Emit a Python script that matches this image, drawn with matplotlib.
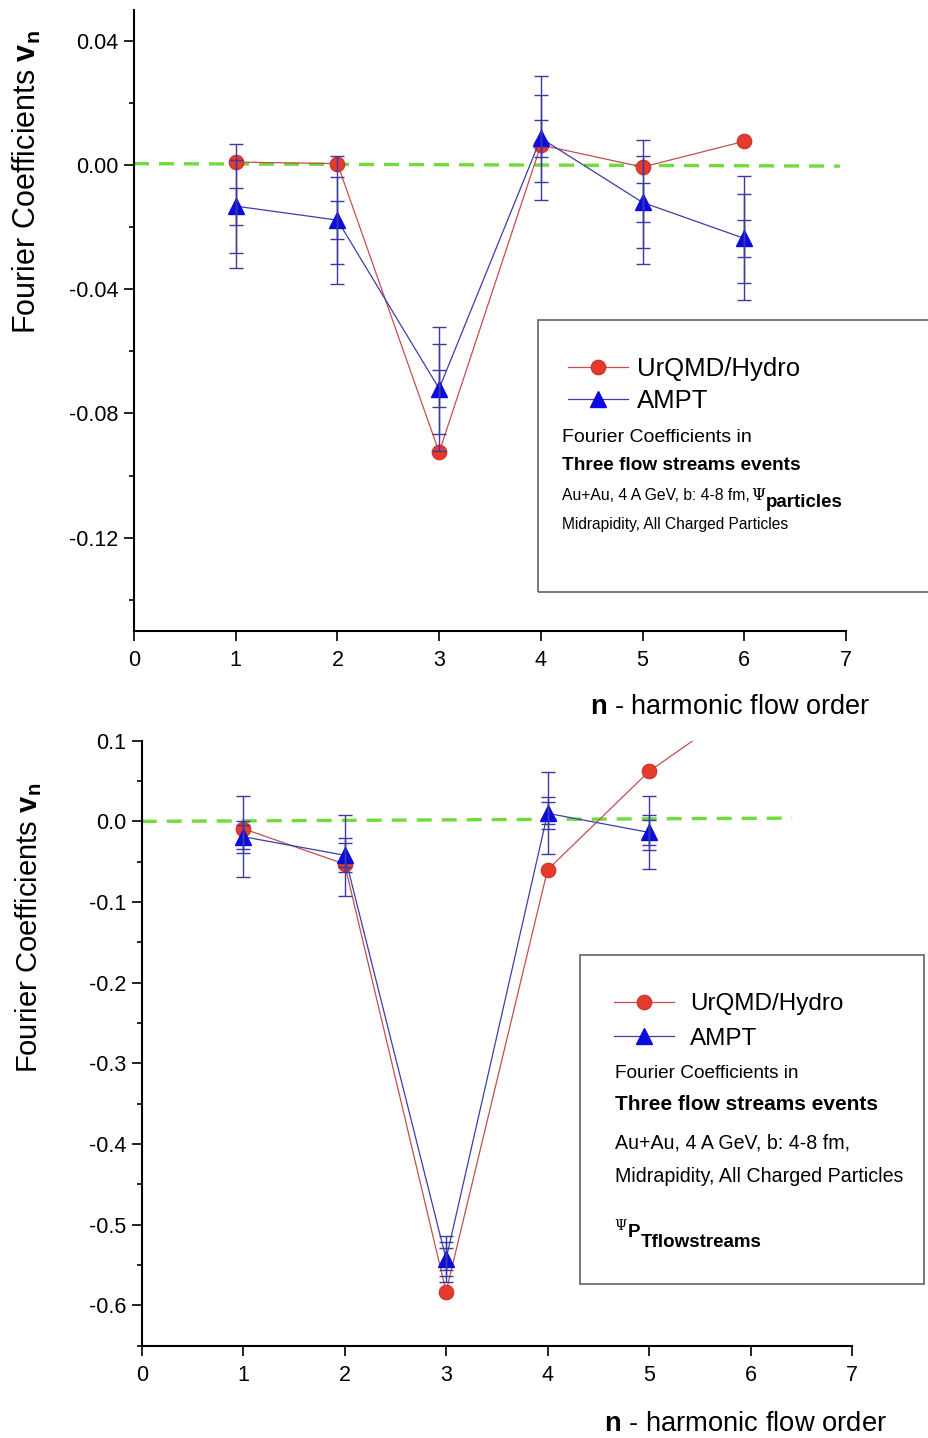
import matplotlib
matplotlib.use('Agg')
import matplotlib.pyplot as plt
from matplotlib.ticker import MultipleLocator, FormatStrFormatter
from matplotlib.patches import Rectangle

plt.rcParams['font.family'] = ['Liberation Sans', 'DejaVu Sans']
plt.rcParams['axes.unicode_minus'] = False
plt.rcParams['mathtext.fontset'] = 'custom'
plt.rcParams['mathtext.rm'] = 'Liberation Sans'
plt.rcParams['mathtext.bf'] = 'Liberation Sans:bold'

# top panel: Psi_particles
n_top = [1, 2, 3, 4, 5, 6]
urqmd_top = [0.001, 0.0005, -0.0925, 0.0065, -0.0006, 0.0077]
ampt_top = [-0.0132, -0.0177, -0.072, 0.0087, -0.012, -0.0236]
ampt_top_err_outer = [0.02, 0.0205, 0.02, 0.02, 0.02, 0.02]
ampt_top_err_mid = [0.015, 0.014, 0.0145, 0.014, 0.0148, 0.0143]
ampt_top_err_inner = [0.006, 0.0062, 0.006, 0.006, 0.0062, 0.006]
zero_top_x = [0, 6.94]
zero_top_y = [0.0005, -0.0003]

# bottom panel: Psi_PT flowstreams
n_bot_urqmd = [1, 2, 3, 4, 5, 6]
urqmd_bot = [-0.009, -0.053, -0.583, -0.060, 0.062, 0.15]
n_bot_ampt = [1, 2, 3, 4, 5]
ampt_bot = [-0.019, -0.042, -0.5425, 0.010, -0.0137]
ampt_bot_err_outer = [0.05, 0.05, 0.028, 0.051, 0.045]
ampt_bot_err_mid = [0.02, 0.021, 0.021, 0.02, 0.022]
ampt_bot_err_inner = [0.015, 0.015, 0.014, 0.0135, 0.015]
zero_bot_x = [0, 6.41]
zero_bot_y = [0.0, 0.004]

RED_FACE = '#e53a2e'
RED_EDGE = '#c8302a'
RED_LINE = '#c0504d'
BLUE_FACE = '#0b0be0'
BLUE_LINE = '#3d3da8'
ERR = '#3a3aa0'
GREEN = '#6fdc3a'

W, H = 929, 1438
fig = plt.figure(figsize=(W / 100, H / 100), dpi=100)


def fx(x):
    return x / W


def fy(y):
    return 1 - y / H


def panel(rect_px, n_u, u, n_a, a, errs, zx, zy, ylim, major, minor, fmt):
    x0, y0, x1, y1 = rect_px
    ax = fig.add_axes([fx(x0), fy(y1), (x1 - x0) / W, (y1 - y0) / H])
    ax.plot(zx, zy, color=GREEN, lw=2.4, ls=(0, (4.5, 3.0)), zorder=1)
    ax.plot(n_u, u, color=RED_LINE, lw=0.9, marker='o', ms=10.5,
            mfc=RED_FACE, mec=RED_EDGE, mew=0.8, label='UrQMD/Hydro', zorder=3)
    ax.plot(n_a, a, color=BLUE_LINE, lw=0.9, marker='^', ms=11.5,
            mfc=BLUE_FACE, mec=BLUE_FACE, label='AMPT', zorder=3)
    for e in errs:
        ax.errorbar(n_a, a, yerr=e, fmt='none', ecolor=ERR, elinewidth=1.0,
                    capsize=4.8, capthick=1.0, zorder=4)
    ax.set_xlim(0, 7)
    ax.set_ylim(*ylim)
    ax.xaxis.set_major_locator(MultipleLocator(1))
    ax.yaxis.set_major_locator(MultipleLocator(major))
    ax.yaxis.set_minor_locator(MultipleLocator(minor))
    ax.yaxis.set_major_formatter(FormatStrFormatter(fmt))
    for s in ['top', 'right']:
        ax.spines[s].set_visible(False)
    for s in ['left', 'bottom']:
        ax.spines[s].set_linewidth(1.5)
    ax.tick_params(which='major', direction='out', length=7, width=1.2,
                   labelsize=15.5, pad=4)
    ax.tick_params(which='minor', direction='out', length=3.8, width=1.2)
    ax.tick_params(axis='x', pad=7)
    return ax


ax1 = panel((134, 10, 846, 630.7), n_top, urqmd_top, n_top, ampt_top,
            [ampt_top_err_outer, ampt_top_err_mid, ampt_top_err_inner],
            zero_top_x, zero_top_y, (-0.15, 0.05), 0.04, 0.02, '%.2f')
ax2 = panel((141.7, 740.7, 852, 1345.7), n_bot_urqmd, urqmd_bot, n_bot_ampt, ampt_bot,
            [ampt_bot_err_outer, ampt_bot_err_mid, ampt_bot_err_inner],
            zero_bot_x, zero_bot_y, (-0.65, 0.1), 0.1, 0.05, '%.1f')

# axis titles
ylab = r'Fourier Coefficients $\mathbf{v}_\mathbf{n}$'
fig.text(fx(27), fy(182), ylab, rotation=90, ha='center', va='center', fontsize=22)
fig.text(fx(29), fy(928), ylab, rotation=90, ha='center', va='center', fontsize=21)
xlab = r'$\mathbf{n}$ - harmonic flow order'
fig.text(fx(590), fy(714), xlab, ha='left', va='baseline', fontsize=19.5)
fig.text(fx(604), fy(1431), xlab, ha='left', va='baseline', fontsize=19.7)

# legend boxes
fig.add_artist(Rectangle((fx(538), fy(592)), (940 - 538) / W, (592 - 320) / H,
                         transform=fig.transFigure, fill=False, ec='#6e6e6e', lw=1.3))
fig.add_artist(Rectangle((fx(580), fy(1284)), (924 - 580) / W, (1284 - 955) / H,
                         transform=fig.transFigure, fill=False, ec='#6e6e6e', lw=1.3))

ax1.legend(loc='upper left', bbox_to_anchor=(fx(568), fy(357)), bbox_transform=fig.transFigure,
           frameon=False, fontsize=18.5, borderpad=0, borderaxespad=0,
           handlelength=2.33, handletextpad=0.35, labelspacing=0.32)
ax2.legend(loc='upper left', bbox_to_anchor=(fx(614), fy(993)), bbox_transform=fig.transFigure,
           frameon=False, fontsize=17.5, borderpad=0, borderaxespad=0,
           handlelength=2.47, handletextpad=0.66, labelspacing=0.52)

# top box notes
fig.text(fx(562), fy(438), 'Fourier Coefficients in', fontsize=14, va='center')
fig.text(fx(562), fy(466), 'Three flow streams events', fontsize=13.7, weight='bold', va='center')
t = fig.text(fx(562), fy(496), 'Au+Au, 4 A GeV, b: 4-8 fm,', fontsize=11.3, va='center')
psi = ax1.annotate('\u03a8', xy=(1, 0.55), xycoords=t, xytext=(1, 0), textcoords='offset points',
                   fontsize=11.5, family='DejaVu Serif', va='center', ha='left')
ax1.annotate('particles', xy=(1, 0.5), xycoords=psi, xytext=(0.5, -5), textcoords='offset points',
             fontsize=13.5, weight='bold', va='center', ha='left')
fig.text(fx(562), fy(524), 'Midrapidity, All Charged Particles', fontsize=11.2, va='center')

# bottom box notes
fig.text(fx(615), fy(1074), 'Fourier Coefficients in', fontsize=13.7, va='center')
fig.text(fx(615), fy(1104), 'Three flow streams events', fontsize=15, weight='bold', va='center')
fig.text(fx(615), fy(1143), 'Au+Au, 4 A GeV, b: 4-8 fm,', fontsize=14.1, va='center')
fig.text(fx(615), fy(1176), 'Midrapidity, All Charged Particles', fontsize=14.1, va='center')
psi2 = fig.text(fx(614), fy(1226), '\u03a8', fontsize=10, family='DejaVu Serif', va='center')
p2 = ax2.annotate('P', xy=(1, 0.5), xycoords=psi2, xytext=(1, -5), textcoords='offset points',
                  fontsize=13.5, weight='bold', va='center', ha='left')
ax2.annotate('Tflowstreams', xy=(1, 0.5), xycoords=p2, xytext=(0.5, -7), textcoords='offset points',
             fontsize=13.5, weight='bold', va='center', ha='left')

fig.savefig('out.png', dpi=100)
